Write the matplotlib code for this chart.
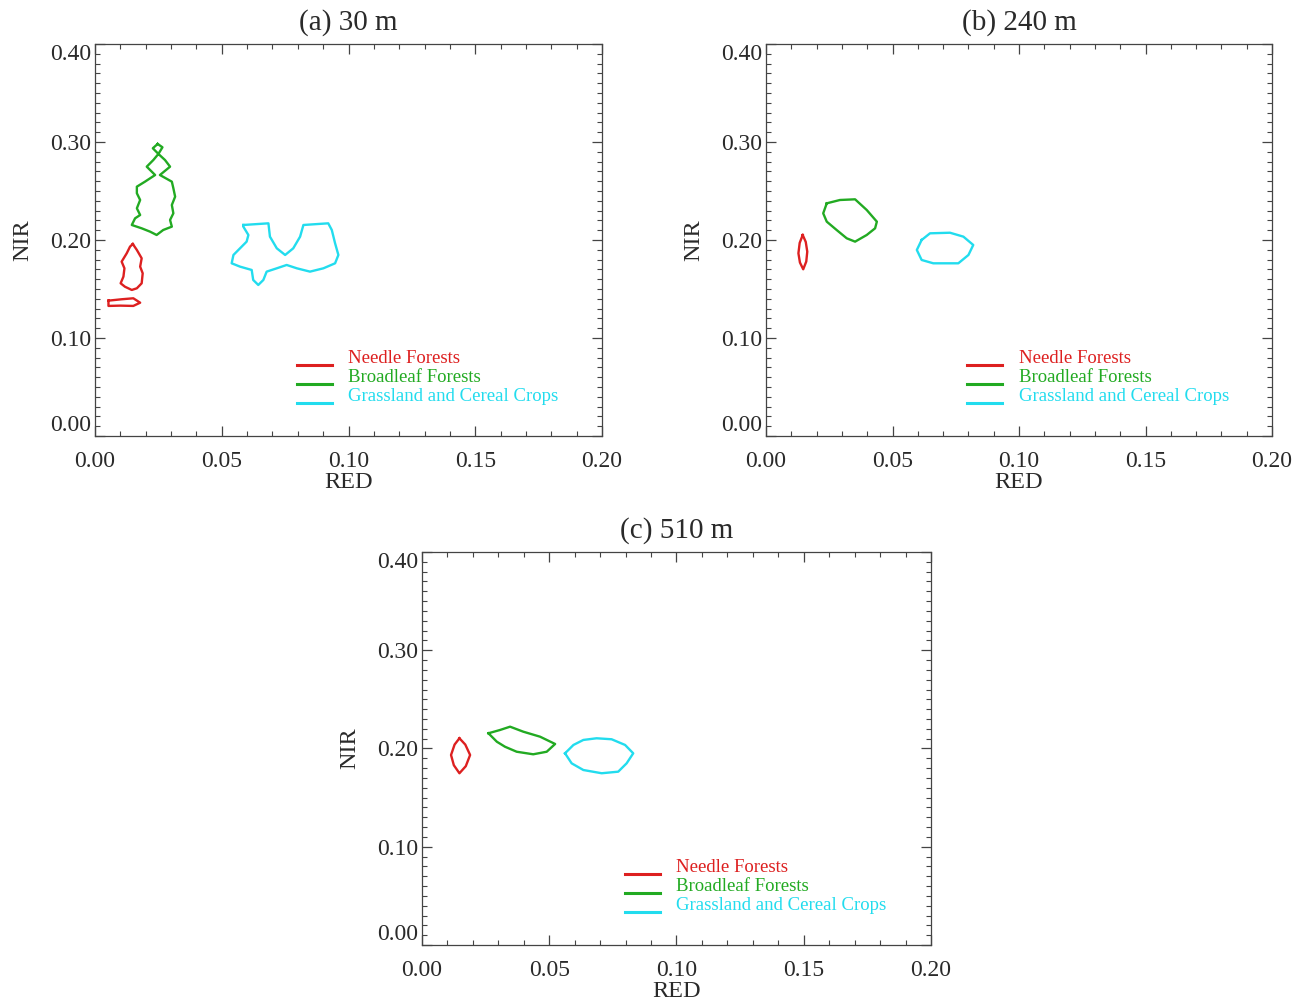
import matplotlib
matplotlib.use('Agg')
import matplotlib.pyplot as plt
from matplotlib.ticker import MultipleLocator, FormatStrFormatter

plt.rcParams['font.family'] = ['Liberation Serif', 'DejaVu Serif']

## colours of the three classes
c_red = '#dd2020'
c_green = '#22aa22'
c_cyan = '#22dcee'

class_names = ['Needle Forests', 'Broadleaf Forests', 'Grassland and Cereal Crops']
class_colors = [c_red, c_green, c_cyan]
panel_titles = ['(a) 30 m', '(b) 240 m', '(c) 510 m']

## contour outlines (RED, NIR)
## (a) 30 m
needle_30_x = [0.0149, 0.0165, 0.0184, 0.0178, 0.0188, 0.0184, 0.0165, 0.0145, 0.0118, 0.0101,
               0.0112, 0.0116, 0.0105, 0.0125, 0.0138, 0.0149]
needle_30_y = [0.1959, 0.1898, 0.1813, 0.1728, 0.1660, 0.1558, 0.1507, 0.1490, 0.1523, 0.1558,
               0.1626, 0.1711, 0.1779, 0.1864, 0.1932, 0.1959]
needle2_30_x = [0.0053, 0.0105, 0.0151, 0.0178, 0.0151, 0.0099, 0.0053, 0.0053]
needle2_30_y = [0.1381, 0.1395, 0.1405, 0.1360, 0.1327, 0.1330, 0.1327, 0.1381]
broad_30_x = [0.0247, 0.0266, 0.0250, 0.0276, 0.0296, 0.0256, 0.0303, 0.0309, 0.0316, 0.0303,
              0.0309, 0.0296, 0.0303, 0.0269, 0.0243, 0.0217, 0.0184, 0.0145, 0.0158, 0.0178,
              0.0165, 0.0178, 0.0165, 0.0165, 0.0197, 0.0237, 0.0204, 0.0230, 0.0250, 0.0228,
              0.0247]
broad_30_y = [0.2980, 0.2946, 0.2878, 0.2816, 0.2748, 0.2663, 0.2595, 0.2528, 0.2442, 0.2357,
              0.2272, 0.2204, 0.2136, 0.2102, 0.2051, 0.2085, 0.2119, 0.2153, 0.2221, 0.2255,
              0.2323, 0.2408, 0.2477, 0.2544, 0.2595, 0.2663, 0.2748, 0.2816, 0.2878, 0.2936,
              0.2980]
grass_30_x = [0.0585, 0.0684, 0.0690, 0.0717, 0.0750, 0.0782, 0.0809, 0.0822, 0.0920, 0.0934,
              0.0947, 0.0960, 0.0947, 0.0901, 0.0848, 0.0796, 0.0756, 0.0717, 0.0677, 0.0664,
              0.0644, 0.0624, 0.0618, 0.0572, 0.0539, 0.0546, 0.0572, 0.0598, 0.0605, 0.0585,
              0.0585]
grass_30_y = [0.2153, 0.2170, 0.2034, 0.1915, 0.1847, 0.1915, 0.2034, 0.2153, 0.2170, 0.2102,
              0.1966, 0.1847, 0.1762, 0.1711, 0.1677, 0.1711, 0.1745, 0.1711, 0.1677, 0.1592,
              0.1541, 0.1592, 0.1694, 0.1728, 0.1762, 0.1847, 0.1915, 0.1983, 0.2051, 0.2136,
              0.2153]

## (b) 240 m
needle_240_x = [0.0145, 0.0157, 0.0163, 0.0159, 0.0147, 0.0134, 0.0128, 0.0133, 0.0145]
needle_240_y = [0.2051, 0.1980, 0.1881, 0.1780, 0.1701, 0.1770, 0.1864, 0.1970, 0.2051]
broad_240_x = [0.0240, 0.0292, 0.0352, 0.0398, 0.0438, 0.0431, 0.0398, 0.0352, 0.0319, 0.0279,
               0.0240, 0.0226, 0.0240]
broad_240_y = [0.2374, 0.2408, 0.2415, 0.2306, 0.2187, 0.2119, 0.2051, 0.1983, 0.2017, 0.2102,
               0.2187, 0.2272, 0.2374]
grass_240_x = [0.0615, 0.0648, 0.0727, 0.0780, 0.0819, 0.0800, 0.0760, 0.0661, 0.0615, 0.0596,
               0.0615]
grass_240_y = [0.2000, 0.2068, 0.2074, 0.2034, 0.1949, 0.1847, 0.1762, 0.1762, 0.1796, 0.1898,
               0.2000]

## (c) 510 m
needle_510_x = [0.0147, 0.0170, 0.0189, 0.0172, 0.0147, 0.0125, 0.0114, 0.0128, 0.0147]
needle_510_y = [0.2104, 0.2040, 0.1934, 0.1820, 0.1748, 0.1830, 0.1934, 0.2040, 0.2104]
broad_510_x = [0.0261, 0.0306, 0.0346, 0.0398, 0.0464, 0.0523, 0.0490, 0.0437, 0.0372, 0.0326,
               0.0294, 0.0261]
broad_510_y = [0.2155, 0.2188, 0.2222, 0.2171, 0.2120, 0.2046, 0.1967, 0.1941, 0.1967, 0.2018,
               0.2069, 0.2155]
grass_510_x = [0.0562, 0.0595, 0.0634, 0.0686, 0.0745, 0.0798, 0.0830, 0.0804, 0.0771, 0.0706,
               0.0634, 0.0588, 0.0562]
grass_510_y = [0.1951, 0.2036, 0.2087, 0.2104, 0.2094, 0.2036, 0.1951, 0.1849, 0.1764, 0.1748,
               0.1781, 0.1849, 0.1951]

panels = [
    [(needle_30_x, needle_30_y, c_red), (needle2_30_x, needle2_30_y, c_red),
     (broad_30_x, broad_30_y, c_green), (grass_30_x, grass_30_y, c_cyan)],
    [(needle_240_x, needle_240_y, c_red), (broad_240_x, broad_240_y, c_green),
     (grass_240_x, grass_240_y, c_cyan)],
    [(needle_510_x, needle_510_y, c_red), (broad_510_x, broad_510_y, c_green),
     (grass_510_x, grass_510_y, c_cyan)],
]

## axes positions (left, bottom, width, height) in figure fractions
positions = [[0.0726, 0.5649, 0.3873, 0.3912],
             [0.5852, 0.5649, 0.3866, 0.3912],
             [0.3224, 0.0569, 0.3888, 0.3922]]

fig = plt.figure(figsize=(13.09, 10.02), dpi=100)

axcol = '#444444'
txtcol = '#2a2a2a'
axes = []
for i in range(3):
    ax = fig.add_axes(positions[i])
    axes.append(ax)
    for xs, ys, col in panels[i]:
        ax.plot(xs, ys, color=col, lw=1.7, solid_joinstyle='round')

    ## legend drawn by hand, IDL style
    ly = [0.181, 0.133, 0.084]
    for j in range(3):
        ax.plot([0.398, 0.467], [ly[j], ly[j]], color=class_colors[j], lw=2.2,
                transform=ax.transAxes)
        ax.text(0.499, ly[j] + 0.016, class_names[j], color=class_colors[j], fontsize=13.5,
                transform=ax.transAxes, va='center', ha='left')

    ax.set_xlim(0.0, 0.20)
    ax.set_ylim(0.0, 0.40)
    ax.xaxis.set_major_locator(MultipleLocator(0.05))
    ax.xaxis.set_minor_locator(MultipleLocator(0.01))
    ax.yaxis.set_major_locator(MultipleLocator(0.10))
    ax.yaxis.set_minor_locator(MultipleLocator(0.01))
    ax.xaxis.set_major_formatter(FormatStrFormatter('%.2f'))
    ax.yaxis.set_major_formatter(FormatStrFormatter('%.2f'))
    ax.tick_params(which='both', direction='in', top=True, right=True, colors=axcol,
                   labelcolor=txtcol, labelsize=17)
    ax.tick_params(which='major', length=7, width=0.9)
    ax.tick_params(which='minor', length=3.5, width=0.8)
    ax.tick_params(axis='x', pad=11)
    ax.tick_params(axis='y', pad=3)
    for sp in ax.spines.values():
        sp.set_color(axcol)
        sp.set_linewidth(0.9)

    ax.set_xlabel('RED', fontsize=17.5, labelpad=0, color=txtcol)
    ax.set_ylabel('NIR', fontsize=17.5, labelpad=12, color=txtcol)
    ax.set_title(panel_titles[i], fontsize=21, pad=10, color=txtcol)

## IDL nudges the end labels of the y axis inward
fig.canvas.draw()
for ax in axes:
    for lbl in ax.get_yticklabels():
        if lbl.get_text() == '0.40':
            lbl.set_va('top')
            lbl.set_y(0.398)
        elif lbl.get_text() == '0.00':
            lbl.set_va('bottom')

plt.savefig('out.png', dpi=100)
plt.close(fig)
